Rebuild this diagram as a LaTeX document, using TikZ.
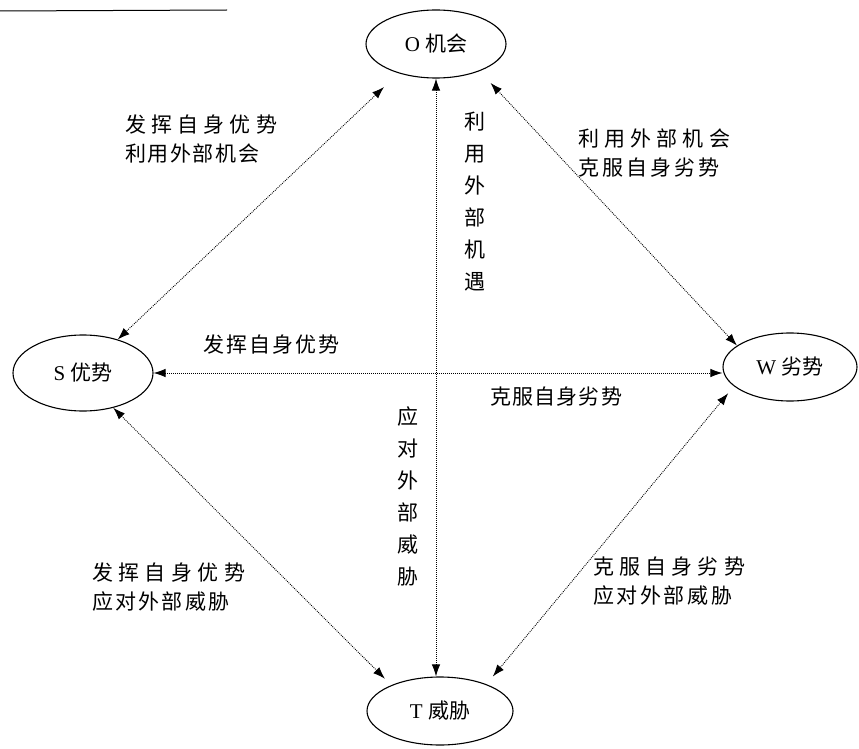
\documentclass[tikz,border=0pt]{standalone}
\usepackage{fontspec}
\setmainfont{Liberation Serif}
\newfontfamily\cjk{Noto Sans CJK SC}
\usetikzlibrary{arrows.meta,shapes.geometric}
\newcommand\gp[1]{\hspace{#1pt}}
\begin{document}
\begin{tikzpicture}[x=1pt,y=-1pt,
  ell/.style={draw, ellipse, line width=1.1pt, inner sep=0pt, font=\fontsize{21}{25}\selectfont},
  arr/.style={dash pattern=on 0.9pt off 1.1pt, line width=0.9pt, {Latex[length=12pt,width=8.5pt]}-{Latex[length=12pt,width=8.5pt]}},
  lbl/.style={anchor=west, inner sep=0pt, align=left, font=\cjk\fontsize{21}{29}\selectfont},
  vlbl/.style={inner sep=0pt, align=center, font=\cjk\fontsize{21}{32}\selectfont}]
\useasboundingbox (0,0) rectangle (859,749);
\fill[white] (0,0) rectangle (859,749);
\draw[line width=1pt] (0,11) -- (227,10);

\node[ell, minimum width=140pt, minimum height=68pt] (O) at (436,44) {O {\cjk 机会}};
\node[ell, minimum width=140pt, minimum height=76pt] (S) at (83,373) {S {\cjk 优势}};
\node[ell, minimum width=134pt, minimum height=68pt] (W) at (790,367) {W {\cjk 劣势}};
\node[ell, minimum width=146pt, minimum height=68pt] (T) at (440,711) {T {\cjk 威胁}};

\draw[arr, shorten <=20pt] (O.218) -- (S.44);
\draw[arr] (O.south) -- (O.south |- T.north);
\draw[arr, shorten <=16pt] (O.-32) -- (W.158);
\draw[arr] (S.east) -- (S.east -| W.west);
\draw[arr, shorten >=9pt] (S.-49) -- (T.152);
\draw[arr, shorten <=9pt, shorten >=10pt] (W.199) -- (T.30);

\node[lbl] (l1) at (125,139) {发\gp{5.2}挥\gp{5.2}自\gp{5.2}身\gp{5.2}优\gp{5.2}势\\利\gp{1.6}用\gp{1.6}外\gp{1.6}部\gp{1.6}机\gp{1.6}会};
\node[lbl] (l2) at (578,153) {利\gp{5.2}用\gp{5.2}外\gp{5.2}部\gp{5.2}机\gp{5.2}会\\克\gp{3}服\gp{3}自\gp{3}身\gp{3}劣\gp{3}势};
\node[lbl] (l3) at (203,345) {发\gp{2}挥\gp{2}自\gp{2}身\gp{2}优\gp{2}势};
\node[lbl] (l4) at (490,397) {克\gp{1.2}服\gp{1.2}自\gp{1.2}身\gp{1.2}劣\gp{1.2}势};
\node[lbl] (l5) at (92,587.5) {发\gp{5.4}挥\gp{5.4}自\gp{5.4}身\gp{5.4}优\gp{5.4}势\\应\gp{2.2}对\gp{2.2}外\gp{2.2}部\gp{2.2}威\gp{2.2}胁};
\node[lbl] (l6) at (593,581) {克\gp{5.2}服\gp{5.2}自\gp{5.2}身\gp{5.2}劣\gp{5.2}势\\应\gp{2.6}对\gp{2.6}外\gp{2.6}部\gp{2.6}威\gp{2.6}胁};
\node[vlbl] (v1) at (475,202) {利\\用\\外\\部\\机\\遇};
\node[vlbl] (v2) at (408,496.5) {应\\对\\外\\部\\威\\胁};
\end{tikzpicture}
\end{document}
